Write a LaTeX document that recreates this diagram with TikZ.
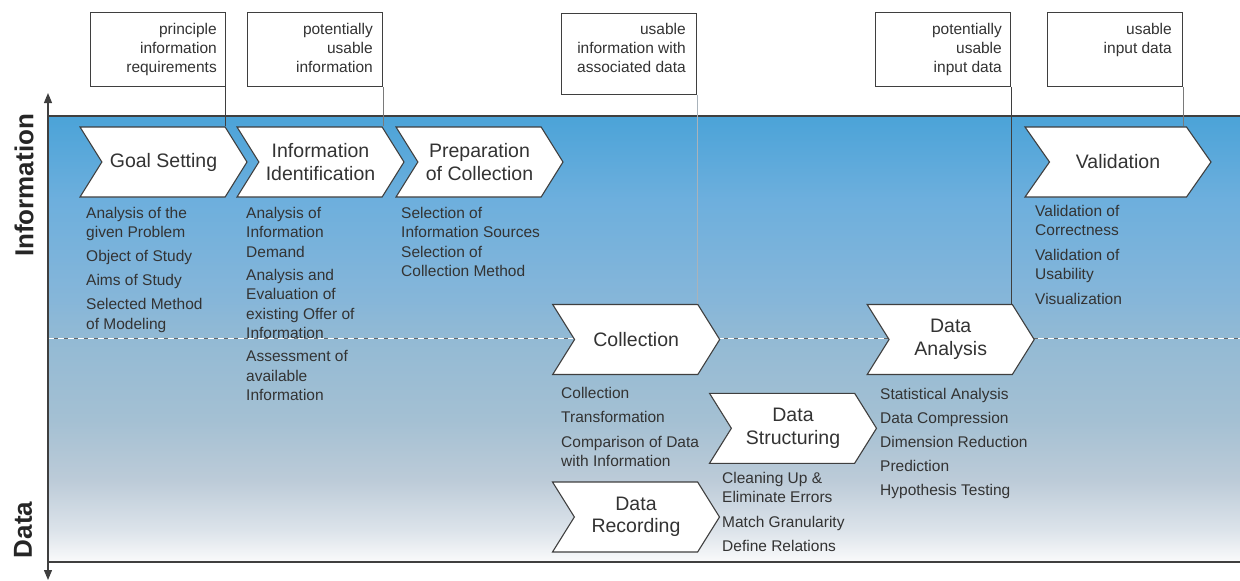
\documentclass[tikz,border=0pt]{standalone}
\usepackage{fontspec}
\setmainfont{Liberation Sans}
\usetikzlibrary{positioning,arrows.meta,shapes.symbols}
\definecolor{textdark}{HTML}{333333}
\definecolor{framegray}{HTML}{3F3F3F}
\definecolor{linkgray}{HTML}{7A7A7A}
\definecolor{linklight}{HTML}{A9B3BB}
\definecolor{bandA}{HTML}{4BA3D8}
\definecolor{bandB}{HTML}{6DAFDD}
\definecolor{bandC}{HTML}{86B6D9}
\definecolor{bandD}{HTML}{93BAD4}
\definecolor{bandE}{HTML}{A4C0D3}
\definecolor{bandF}{HTML}{BCCBD8}
\definecolor{bandG}{HTML}{DCE3EA}
\definecolor{bandH}{HTML}{F8F9FA}
% band behind the phases: blue on top, fading out to the bottom
\pgfdeclareverticalshading{phaseband}{100bp}{%
  color(0bp)=(bandH); color(25.2bp)=(bandH); color(28.6bp)=(bandG);
  color(34.2bp)=(bandF); color(40.9bp)=(bandE); color(49.9bp)=(bandD);
  color(54.4bp)=(bandC); color(65.6bp)=(bandB); color(75bp)=(bandA);
  color(100bp)=(bandA)}

\begin{document}
\begin{tikzpicture}[x=1pt, y=-1pt, >={Triangle[width=8pt,length=10pt]},
    phase/.style={shape=signal, signal from=west, signal to=east,
      signal pointer angle=116, draw=framegray, fill=white, line width=1.1pt,
      minimum width=167pt, minimum height=70pt, inner sep=1pt, align=center,
      text=textdark, font=\fontsize{19.5}{22.5}\selectfont},
    note/.style={draw=framegray, fill=white, line width=1pt,
      minimum width=135pt, minimum height=74pt, anchor=north east},
    notetext/.style={align=right, inner sep=0pt, text=textdark,
      font=\fontsize{15.5}{19}\selectfont},
    tasks/.style={align=left, anchor=north west, inner sep=0pt, text=textdark,
      font=\fontsize{15.5}{19.5}\selectfont},
    link/.style={draw=framegray, line width=1pt},
    axislabel/.style={rotate=90, text=black!85,
      font=\fontsize{26}{26}\bfseries\selectfont}]
  \useasboundingbox (0,0) rectangle (1240,581);

  % band and the information/data border
  \shade[shading=phaseband] (48,116) rectangle (1240,562);
  \draw[framegray, line width=1.2pt] (1240,116) -- (48,116);
  \draw[framegray, line width=1.2pt] (48,562) -- (1240,562);
  \draw[framegray!80, line width=0.9pt] (48,338.5) -- (1240,338.5);
  \draw[white, line width=0.9pt, dash pattern=on 6pt off 4pt] (48,338.5) -- (1240,338.5);

  % axis
  \draw[<->, framegray, line width=1.2pt] (48,580) -- (48,93);
  \node[axislabel] (info) at (24,185.5) {Information};
  \node[axislabel] (data) at (23,530) {Data};

  % results
  \node[note] (req) at (225.5,12) {};
  \node[notetext, below left=10.7pt and 8.5pt of req.north east] (req-txt) {principle\\information\\requirements};
  \node[note] (potinfo) at (383,12) {};
  \node[notetext, below left=10.7pt and 10pt of potinfo.north east] (potinfo-txt) {potentially\\usable\\information};
  \node[note, minimum height=81pt] (usinfo) at (697,13) {};
  \node[notetext, below left=9.7pt and 11pt of usinfo.north east] (usinfo-txt) {usable\\information with\\associated data};
  \node[note] (potdata) at (1011,12) {};
  \node[notetext, below left=10.7pt and 9pt of potdata.north east] (potdata-txt) {potentially\\usable\\input data};
  \node[note] (usdata) at (1183,12) {};
  \node[notetext, below left=10.7pt and 11pt of usdata.north east] (usdata-txt) {usable\\input data};

  % phases
  \node[phase] (goal) at (163.5,162) {Goal Setting};
  \node[phase] (ident) at (320.5,162) {Information\\Identification};
  \node[phase] (prep) at (479.5,162) {Preparation\\of Collection};
  \node[phase, minimum width=186pt, signal pointer angle=110] (valid) at (1118,162) {Validation};
  \node[phase] (collect) at (636.2,339.5) {Collection};
  \node[phase] (struct) at (793,428.3) {Data\\Structuring};
  \node[phase] (record) at (636,517) {Data\\Recording};
  \node[phase] (analysis) at (950.7,339.5) {Data\\Analysis};

  % results down to the phases
  \draw[link] (req.south east) -- (req.south east |- goal.north);
  \draw[link, linkgray] (potinfo.south east) -- (potinfo.south east |- ident.north);
  \draw[link, linklight, line width=0.8pt] (usinfo.south east) -- (usinfo.south east |- collect.north);
  \draw[link] (potdata.south east) -- (potdata.south east |- analysis.north);
  \draw[link, linkgray] (usdata.south east) -- (usdata.south east |- valid.north);

  % activities of each phase
  \node[tasks] (goal-list) at (86,206.7) {Analysis of the\\given Problem\\[4.5pt]Object of Study\\[4.5pt]Aims of Study\\[4.5pt]Selected Method\\of Modeling};
  \node[tasks] (ident-list) at (246,206.7) {Analysis of\\Information\\Demand\\[3.5pt]Analysis and\\Evaluation of\\existing Offer of\\Information\\[3.5pt]Assessment of\\available\\Information};
  \node[tasks] (prep-list) at (401,206.7) {Selection of\\Information Sources\\Selection of\\Collection Method};
  \node[tasks] (collect-list) at (561,386.7) {Collection\\[5pt]Transformation\\[5pt]Comparison of Data\\with Information};
  \node[tasks] (struct-list) at (722,471.7) {Cleaning Up \&\\Eliminate Errors\\[5pt]Match Granularity\\[5pt]Define Relations};
  \node[tasks] (analysis-list) at (880,387.7) {Statistical Analysis\\[4.5pt]Data Compression\\[4.5pt]Dimension Reduction\\[4.5pt]Prediction\\[4.5pt]Hypothesis Testing};
  \node[tasks] (valid-list) at (1035,204.7) {Validation of\\Correctness\\[5pt]Validation of\\Usability\\[5pt]Visualization};
\end{tikzpicture}
\end{document}
